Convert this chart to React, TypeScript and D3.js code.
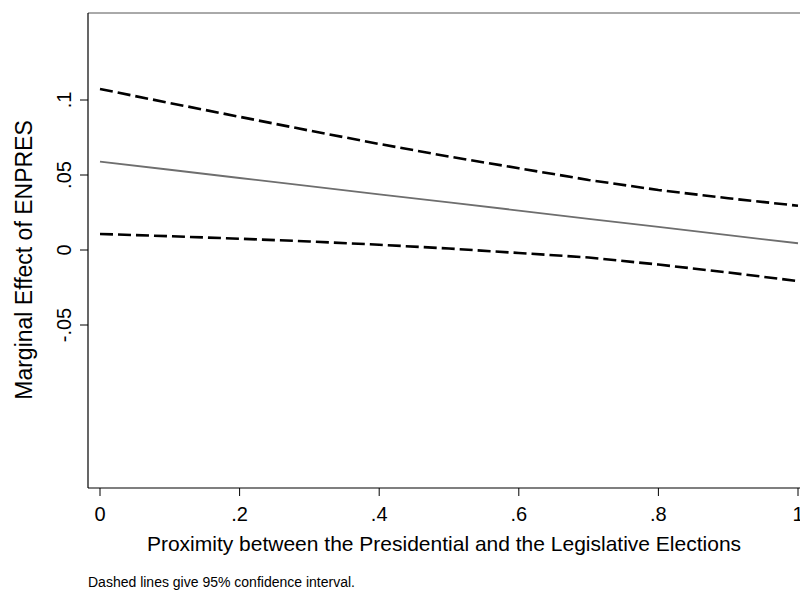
import React from "react";
import * as d3 from "d3";

const xs = [0, 0.1, 0.2, 0.3, 0.4, 0.5, 0.6, 0.7, 0.8, 0.9, 1.0];
const effect = [0.0589, 0.0535, 0.048, 0.0426, 0.0371, 0.0317, 0.0263, 0.0208, 0.0154, 0.0099, 0.0045];
const upper = [0.1073, 0.098, 0.0888, 0.0796, 0.0707, 0.0623, 0.0545, 0.0467, 0.04, 0.0345, 0.0295];
const lower = [0.0107, 0.0092, 0.0075, 0.0057, 0.0035, 0.001, -0.002, -0.005, -0.0097, -0.015, -0.0207];

const xTicks = [0, 0.2, 0.4, 0.6, 0.8, 1];
const xTickLabels = ["0", ".2", ".4", ".6", ".8", "1"];
const yTicks = [-0.05, 0, 0.05, 0.1];
const yTickLabels = ["-.05", "0", ".05", ".1"];

const W = 800;
const H = 590;
const box = { left: 88, top: 13, right: 800, bottom: 488 };
const font = "'Liberation Sans', Arial, Helvetica, sans-serif";

export default function App() {
  const x = d3.scaleLinear().domain([0, 1]).range([100, 798]);
  const y = d3.scaleLinear().domain([0, 0.1]).range([250, 100]);
  const line = (vals: number[]) =>
    d3
      .line<number>()
      .x((_, i) => x(xs[i]))
      .y((d) => y(d))(vals) || "";

  return (
    <div style={{ position: "absolute", left: 0, top: 0 }}>
      <svg width={W} height={H} style={{ display: "block", background: "#fff" }}>
        <rect x={0} y={0} width={W} height={H} fill="#fff" />
        <line x1={box.left} x2={box.right} y1={box.top} y2={box.top} stroke="#555" strokeWidth={1} />
        <line x1={box.left} x2={box.left} y1={box.top} y2={box.bottom} stroke="#000" strokeWidth={1.2} />
        <line x1={box.left} x2={box.right} y1={box.bottom} y2={box.bottom} stroke="#000" strokeWidth={1.2} />

        {yTicks.map((t, i) => (
          <g key={"y" + i}>
            <line x1={box.left - 8} x2={box.left} y1={y(t)} y2={y(t)} stroke="#000" strokeWidth={1} />
            <text
              transform={`translate(71,${y(t)}) rotate(-90)`}
              textAnchor="middle"
              fontFamily={font}
              fontSize={20}
              fill="#000"
            >
              {yTickLabels[i]}
            </text>
          </g>
        ))}
        {xTicks.map((t, i) => (
          <g key={"x" + i}>
            <line x1={x(t)} x2={x(t)} y1={box.bottom} y2={box.bottom + 8} stroke="#000" strokeWidth={1} />
            <text x={x(t)} y={521} textAnchor="middle" fontFamily={font} fontSize={20} fill="#000">
              {xTickLabels[i]}
            </text>
          </g>
        ))}

        <path d={line(upper)} fill="none" stroke="#000" strokeWidth={2.6} strokeDasharray="13 5" />
        <path d={line(lower)} fill="none" stroke="#000" strokeWidth={2.6} strokeDasharray="13 5" />
        <path d={line(effect)} fill="none" stroke="#6e6e6e" strokeWidth={1.8} />

        <text
          transform={`translate(32,260) rotate(-90)`}
          textAnchor="middle"
          fontFamily={font}
          fontSize={23}
          fill="#000"
        >
          Marginal Effect of ENPRES
        </text>
        <text x={444} y={551} textAnchor="middle" fontFamily={font} fontSize={21} fill="#000">
          Proximity between the Presidential and the Legislative Elections
        </text>
        <text x={88} y={587} fontFamily={font} fontSize={14} fill="#000">
          Dashed lines give 95% confidence interval.
        </text>
      </svg>
    </div>
  );
}
